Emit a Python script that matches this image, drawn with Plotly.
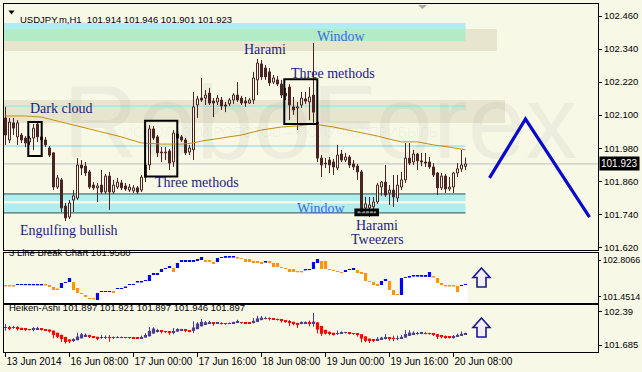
import plotly.graph_objects as go

W, H = 642, 372
BG = "#F8F8E7"
CANDLE = "#4A2323"

# ---------------- data ----------------
symbol = "USDJPY.m,H1"
x_tick_idx = [0, 16, 32, 48, 64, 80, 96, 112]
x_tick_text = ["13 Jun 2014", "16 Jun 08:00", "17 Jun 00:00", "17 Jun 16:00",
               "18 Jun 08:00", "19 Jun 00:00", "19 Jun 16:00", "20 Jun 08:00"]
price_ticks = [102.46, 102.34, 102.22, 102.10, 101.98, 101.86, 101.74, 101.62]

opens = [102.090, 102.010, 102.072, 102.021, 102.028, 102.017, 102.003, 102.017, 102.068, 102.021,
         102.010, 101.981, 101.963, 101.839, 101.865, 101.770, 101.730, 101.792, 101.799, 101.919,
         101.915, 101.894, 101.846, 101.836, 101.846, 101.821, 101.879, 101.821, 101.839, 101.854,
         101.843, 101.828, 101.825, 101.836, 101.828, 101.875, 101.919, 102.050, 102.021, 101.966,
         101.963, 101.970, 101.930, 102.032, 102.021, 102.010, 101.966, 101.974, 102.137, 102.162,
         102.162, 102.180, 102.151, 102.148, 102.155, 102.137, 102.141, 102.155, 102.173, 102.162,
         102.151, 102.144, 102.155, 102.228, 102.286, 102.271, 102.257, 102.220, 102.228, 102.213,
         102.180, 102.202, 102.130, 102.126, 102.137, 102.159, 102.148, 102.173, 102.075, 101.944,
         101.926, 101.937, 101.930, 101.908, 101.959, 101.937, 101.948, 101.923, 101.915, 101.894,
         101.763, 101.763, 101.767, 101.785, 101.839, 101.857, 101.817, 101.828, 101.799, 101.839,
         101.865, 101.944, 101.930, 101.959, 101.934, 101.930, 101.930, 101.912, 101.890, 101.836,
         101.879, 101.832, 101.839, 101.890, 101.905, 101.914]
highs = [102.130, 102.090, 102.090, 102.082, 102.035, 102.024, 102.024, 102.068, 102.075, 102.035,
         102.021, 101.988, 101.966, 101.883, 101.872, 101.781, 101.792, 101.828, 101.944, 101.937,
         101.930, 101.901, 101.857, 101.854, 101.901, 101.886, 101.894, 101.865, 101.872, 101.865,
         101.854, 101.850, 101.846, 101.843, 101.883, 101.937, 102.064, 102.061, 102.028, 101.984,
         101.984, 101.977, 102.046, 102.039, 102.028, 102.017, 101.992, 102.184, 102.170, 102.235,
         102.191, 102.199, 102.162, 102.173, 102.166, 102.148, 102.162, 102.180, 102.220, 102.170,
         102.166, 102.162, 102.257, 102.304, 102.300, 102.282, 102.271, 102.246, 102.242, 102.228,
         102.199, 102.213, 102.166, 102.148, 102.184, 102.184, 102.202, 102.362, 102.101, 101.955,
         101.944, 101.948, 101.941, 101.992, 101.974, 101.963, 101.955, 101.937, 101.923, 101.901,
         101.803, 101.803, 101.803, 101.854, 101.861, 101.919, 101.846, 101.883, 101.883, 101.894,
         101.999, 101.999, 101.974, 101.963, 101.963, 101.963, 101.948, 101.926, 101.894, 101.890,
         101.886, 101.875, 101.894, 101.926, 101.974, 101.946]
lows = [101.992, 101.999, 102.028, 101.992, 101.999, 101.984, 101.992, 101.974, 102.003, 101.992,
        101.984, 101.948, 101.828, 101.832, 101.748, 101.716, 101.723, 101.748, 101.792, 101.883,
        101.879, 101.832, 101.828, 101.785, 101.814, 101.814, 101.756, 101.814, 101.832, 101.828,
        101.825, 101.821, 101.817, 101.814, 101.821, 101.857, 101.901, 102.010, 101.948, 101.930,
        101.937, 101.901, 101.912, 102.010, 102.003, 101.955, 101.955, 101.937, 102.090, 102.148,
        102.137, 102.137, 102.093, 102.137, 102.119, 102.111, 102.133, 102.141, 102.148, 102.137,
        102.130, 102.141, 102.141, 102.173, 102.228, 102.228, 102.206, 102.213, 102.206, 102.162,
        102.155, 102.082, 102.101, 102.046, 102.126, 102.141, 102.082, 102.072, 101.930, 101.875,
        101.908, 101.890, 101.883, 101.901, 101.930, 101.930, 101.908, 101.901, 101.865, 101.741,
        101.745, 101.730, 101.745, 101.778, 101.807, 101.803, 101.774, 101.767, 101.785, 101.828,
        101.854, 101.919, 101.919, 101.901, 101.915, 101.912, 101.905, 101.875, 101.810, 101.828,
        101.817, 101.825, 101.817, 101.875, 101.894, 101.901]
closes = [102.028, 102.075, 102.053, 102.072, 102.010, 101.999, 102.017, 102.053, 102.021, 102.010,
          101.992, 101.955, 101.839, 101.872, 101.763, 101.727, 101.781, 101.807, 101.919, 101.908,
          101.890, 101.839, 101.836, 101.843, 101.821, 101.879, 101.821, 101.846, 101.857, 101.836,
          101.832, 101.839, 101.836, 101.821, 101.875, 101.919, 102.050, 102.017, 101.963, 101.963,
          101.966, 101.926, 102.035, 102.017, 102.010, 101.963, 101.981, 102.130, 102.159, 102.155,
          102.173, 102.144, 102.144, 102.162, 102.133, 102.133, 102.155, 102.173, 102.155, 102.144,
          102.144, 102.155, 102.235, 102.289, 102.239, 102.239, 102.217, 102.235, 102.213, 102.173,
          102.170, 102.137, 102.119, 102.130, 102.162, 102.151, 102.166, 102.111, 101.944, 101.919,
          101.923, 101.919, 101.912, 101.955, 101.937, 101.948, 101.919, 101.912, 101.894, 101.748,
          101.778, 101.774, 101.785, 101.846, 101.857, 101.810, 101.828, 101.803, 101.846, 101.865,
          101.944, 101.926, 101.959, 101.934, 101.930, 101.926, 101.912, 101.883, 101.836, 101.879,
          101.832, 101.839, 101.890, 101.905, 101.919, 101.923]

# moving average (read at selected bars)
ma_idx = [0, 5, 9, 11, 14, 19, 24, 29, 34, 39, 44, 47, 49, 54, 59, 64, 69, 73, 77, 82, 87, 90, 93,
          96, 99, 103, 107, 111, 115]
ma_val = [102.097, 102.097, 102.093, 102.086, 102.075, 102.057, 102.039, 102.021, 101.999, 101.995,
          101.995, 101.999, 102.006, 102.017, 102.028, 102.046, 102.057, 102.061, 102.068, 102.057,
          102.042, 102.035, 102.024, 102.013, 102.003, 102.003, 101.992, 101.984, 101.974]

# forecast zig-zag
fc_idx = [121, 130, 146]
fc_val = [101.872, 102.086, 101.730]

# horizontal levels / zones
level_cyan = [102.133, 101.988]
level_dark = [101.814, 101.745]
current_price = 101.923
win_top_cyan = (102.413, 102.435)
win_top_green = (102.369, 102.413)
win_bot_1 = (101.788, 101.814)
win_bot_2 = (101.745, 101.779)

# pattern boxes (bar index range, price range)
pat_x0 = [5.7, 34.9, 69.7, 87.6]
pat_x1 = [9.05, 42.95, 77.95, 93.0]
pat_y0 = [101.952, 101.877, 102.068, 101.738]
pat_y1 = [102.075, 102.080, 102.230, 101.756]
pat_w = [2, 2, 2, 3]

# pattern labels
lab_text = ["Dark cloud", "Harami", "Three methods", "Three methods", "Engulfing bullish",
            "Harami", "Tweezers"]
lab_x = [13.9, 64.9, 81.9, 47.9, 15.9, 92.9, 92.9]
lab_y = [102.126, 102.340, 102.253, 101.857, 101.683, 101.698, 101.647]
win_lab_x = [83.9, 79.1]
win_lab_y = [102.387, 101.761]

# 3 line break
lb_hi = ([101.883]*3 + [101.920]*7 + [101.902, 101.883, 101.809, 101.754, 101.957, 101.994, 102.142,
        101.994, 101.772, 101.587, 101.514, 101.403, 101.385, 101.587] + [101.661]*4 + [101.772]*2 +
        [101.828] + [101.920]*2 + [102.031]*2 + [102.068, 102.253] + [102.290]*2 +
        [102.474, 102.511, 102.585, 102.511, 102.696] + [102.770]*4 + [102.807, 102.917] + [102.807]*2 +
        [102.733, 102.880, 102.917] + [102.935]*3 + [102.917, 102.880] + [102.843]*2 + [102.733]*2 +
        [102.696, 102.751, 102.733] + [102.696]*2 + [102.548, 102.511] + [102.474]*2 +
        [102.400, 102.400, 102.456, 102.474, 102.733, 102.843] + [102.770]*2 +
        [102.474, 102.437, 102.400, 102.363, 102.437, 102.474, 102.511, 102.437, 102.327, 102.327,
         102.031, 101.994, 101.920, 102.031, 102.105, 102.031, 101.698, 101.532, 102.142, 102.179,
         102.197] + [102.234]*4 + [102.363, 102.216, 102.142, 101.957, 101.883] + [101.865]*2 +
        [101.846, 101.883, 101.920])
lb_lo = ([101.828]*3 + [101.883]*7 + [101.865, 101.809, 101.698, 101.698, 101.772, 101.957, 101.994,
        101.698, 101.587, 101.551, 101.440, 101.366, 101.348, 101.329] + [101.624]*3 + [101.587] +
        [101.735]*2 + [101.772] + [101.883]*2 + [101.975]*2 + [102.031, 102.031] + [102.253]*2 +
        [102.363, 102.474, 102.511, 102.363, 102.511] + [102.733]*4 + [102.770, 102.807] + [102.733]*2 +
        [102.659, 102.733, 102.880] + [102.898]*3 + [102.862, 102.843] + [102.733]*2 + [102.696]*2 +
        [102.659, 102.714, 102.696] + [102.548]*2 + [102.511, 102.474] + [102.363]*2 +
        [102.363, 102.345, 102.419, 102.437, 102.474, 102.696] + [102.474]*2 +
        [102.437, 102.400, 102.363, 102.327, 102.363, 102.437, 102.437, 102.327, 102.290, 102.031,
         101.994, 101.883, 101.846, 101.883, 102.031, 101.698, 101.514, 101.495, 101.514, 102.142,
         102.160] + [102.197]*4 + [102.179, 102.160, 101.957, 101.883, 101.828] + [101.828]*2 +
        [101.624, 101.846, 101.883])
lb_dir = ([-1]*3 + [1]*7 + [-1]*4 + [1]*3 + [-1]*6 + [1]*4 + [-1] + [1]*14 + [-1] + [1]*7 + [-1]*3 +
          [1]*5 + [-1]*7 + [1] + [-1]*9 + [1]*4 + [-1]*6 + [1]*3 + [-1]*6 + [1]*2 + [-1]*3 + [1]*8 +
          [-1]*7 + [1]*2)
lb_value = 101.9580
lb_ticks = [102.8066, 101.4514]

ha_header = [101.897, 101.921, 101.897, 101.946, 101.897]
ha_ticks = [102.39, 101.685]

# ---------------- helpers ----------------
def px(x):
    return x / W

def py(y):
    return 1 - y / H

n = len(opens)
idx = list(range(n))
XR = [-0.375, 148.125]

fig = go.Figure()

# ---------- main candles ----------
body_base = [min(o, c) for o, c in zip(opens, closes)]
body_h = [max(abs(c - o), 0.0016) for o, c in zip(opens, closes)]
body_fill = [BG if c >= o else CANDLE for o, c in zip(opens, closes)]
fig.add_trace(go.Bar(x=idx, y=body_h, base=body_base, width=0.5,
                     marker=dict(color=body_fill, line=dict(color=CANDLE, width=1)),
                     xaxis="x", yaxis="y", hoverinfo="skip"))
wx, wy = [], []
for i, o, h, l, c in zip(idx, opens, highs, lows, closes):
    top, bot = max(o, c), min(o, c)
    wx += [i, i, None, i, i, None]
    wy += [h, top, None, bot, l, None]
fig.add_trace(go.Scatter(x=wx, y=wy, mode="lines", line=dict(color=CANDLE, width=1),
                         xaxis="x", yaxis="y", hoverinfo="skip"))
fig.add_trace(go.Scatter(x=ma_idx, y=ma_val, mode="lines", line=dict(color="#C8900C", width=1),
                         xaxis="x", yaxis="y", hoverinfo="skip"))
fig.add_trace(go.Scatter(x=fc_idx, y=fc_val, mode="lines", line=dict(color="#0A0ACD", width=3.2),
                         xaxis="x", yaxis="y", hoverinfo="skip"))

# ---------- 3 line break ----------
sx, sy = [], []
for i, lo in zip(idx, lb_lo):
    sx += [i - 0.5, i + 0.5]
    sy += [lo, lo]
fig.add_trace(go.Scatter(x=sx, y=sy, mode="lines", line=dict(width=0, color="white"),
                         fill="tozeroy", fillcolor="white", xaxis="x2", yaxis="y2", hoverinfo="skip"))
fig.add_trace(go.Bar(x=idx, y=[h - l for h, l in zip(lb_hi, lb_lo)], base=lb_lo, width=0.8,
                     marker=dict(color=["#0000FF" if d > 0 else "#FF9410" for d in lb_dir], line=dict(width=0)),
                     xaxis="x2", yaxis="y2", hoverinfo="skip"))

# ---------- Heiken-Ashi (derived from candles) ----------
ha_c = [(o + h + l + c) / 4 for o, h, l, c in zip(opens, highs, lows, closes)]
ha_o = [(opens[0] + closes[0]) / 2]
for k in range(1, n):
    ha_o.append((ha_o[k - 1] + ha_c[k - 1]) / 2)
ha_h = [max(h, a, b) for h, a, b in zip(highs, ha_o, ha_c)]
ha_l = [min(l, a, b) for l, a, b in zip(lows, ha_o, ha_c)]
HA_UP, HA_DN = "#4B3D8F", "#FF0000"
fig.add_trace(go.Bar(x=idx, y=[max(abs(c - o), 0.006) for o, c in zip(ha_o, ha_c)],
                     base=[min(o, c) for o, c in zip(ha_o, ha_c)], width=0.8,
                     marker=dict(color=[HA_UP if c >= o else HA_DN for o, c in zip(ha_o, ha_c)], line=dict(width=0)),
                     xaxis="x3", yaxis="y3", hoverinfo="skip"))
for col, up in ((HA_UP, True), (HA_DN, False)):
    hx, hy = [], []
    for i, o, c, h, l in zip(idx, ha_o, ha_c, ha_h, ha_l):
        if (c >= o) == up:
            hx += [i, i, None]
            hy += [l, h, None]
    fig.add_trace(go.Scatter(x=hx, y=hy, mode="lines", line=dict(color=col, width=1),
                             xaxis="x3", yaxis="y3", hoverinfo="skip"))

# ---------- shapes ----------
shapes = []
for (x0, x1, y0, y1) in [(4, 497, 29, 51), (4, 505, 100, 123)]:
    shapes.append(dict(type="rect", xref="paper", yref="paper", x0=px(x0), x1=px(x1), y0=py(y1), y1=py(y0),
                       fillcolor="#E8E5CF", line=dict(width=0), layer="below"))
for (y0, y1), col in [(win_top_cyan, "#AFEEF0"), (win_top_green, "#B2EBC6"),
                      (win_bot_1, "#AFEEEE"), (win_bot_2, "#AFEEEE")]:
    shapes.append(dict(type="rect", xref="x", yref="y", x0=XR[0], x1=n - 1, y0=y0, y1=y1,
                       fillcolor=col, line=dict(width=0), layer="below"))
for lv in level_cyan:
    shapes.append(dict(type="line", xref="x", yref="y", x0=XR[0], x1=n - 1, y0=lv, y1=lv,
                       line=dict(color="#9FE6EE", width=1.3), layer="below"))
for lv in level_dark:
    shapes.append(dict(type="line", xref="x", yref="y", x0=XR[0], x1=n - 1, y0=lv, y1=lv,
                       line=dict(color="#2F4F4F", width=1), layer="below"))
shapes.append(dict(type="line", xref="x domain", yref="y", x0=0, x1=1, y0=current_price, y1=current_price,
                   line=dict(color="#BDBDBD", width=1), layer="below"))
for x0, x1, y0, y1, lw in zip(pat_x0, pat_x1, pat_y0, pat_y1, pat_w):
    shapes.append(dict(type="rect", xref="x", yref="y", x0=x0, x1=x1, y0=y0, y1=y1,
                       line=dict(color="black", width=lw), fillcolor="rgba(0,0,0,0)"))

def path(pts):
    return "M " + " L ".join(f"{px(a):.5f} {py(b):.5f}" for a, b in pts) + " Z"

for dy in (0, 50):
    pts = [(481.5, 268 + dy), (490, 277.5 + dy), (486, 277.5 + dy), (486, 287 + dy),
           (477, 287 + dy), (477, 277.5 + dy), (473, 277.5 + dy)]
    shapes.append(dict(type="path", xref="paper", yref="paper", path=path(pts),
                       line=dict(color="#1A1A8C", width=1.6), fillcolor="#F4EEF6"))
shapes.append(dict(type="path", xref="paper", yref="paper",
                   path=path([(8.5, 10.5), (14.5, 10.5), (11.5, 14.5)]),
                   line=dict(width=0), fillcolor="black"))
shapes.append(dict(type="path", xref="paper", yref="paper",
                   path=path([(418, 5), (427, 5), (422.5, 9)]),
                   line=dict(width=0), fillcolor="#A8A8A8"))

# ---------- annotations ----------
ann = []
ann.append(dict(text="RoboForex", xref="paper", yref="paper", x=px(320), y=py(62), showarrow=False,
                font=dict(family="Liberation Sans", size=104, color="rgba(0,0,0,0.045)")))
ann.append(dict(text="ИСПОЛЬЗУЙ РОБОТОВ – ПОЛУЧАЙ ПРИБЫЛЬ", xref="paper", yref="paper", x=px(440), y=py(121),
                showarrow=False, font=dict(family="Liberation Sans", size=14, color="rgba(0,0,0,0.04)")))
AF = dict(family="Liberation Sans", size=9.5, color="black")
hdr = f"{symbol}  {opens[-1]:.3f} {highs[-1]:.3f} {lows[-1]:.3f} {closes[-1]:.3f}"
ann.append(dict(text=hdr, xref="paper", yref="paper", x=px(18), y=py(12.5), xanchor="left",
                showarrow=False, font=AF))
ann.append(dict(text=f"3 Line Break Chart {lb_value:.4f}", xref="paper", yref="paper", x=px(7), y=py(260),
                xanchor="left", showarrow=False, font=AF))
ann.append(dict(text="Heiken-Ashi " + " ".join(f"{v:.3f}" for v in ha_header), xref="paper", yref="paper",
                x=px(7), y=py(315), xanchor="left", showarrow=False, font=AF))
for t, x, y in zip(lab_text, lab_x, lab_y):
    ann.append(dict(text=t, xref="x", yref="y", x=x, y=y, showarrow=False,
                    font=dict(family="Liberation Serif", size=14, color="#1C1C7A")))
for x, y in zip(win_lab_x, win_lab_y):
    ann.append(dict(text="Window", xref="x", yref="y", x=x, y=y, showarrow=False,
                    font=dict(family="Liberation Serif", size=14, color="#4169E1")))
ann.append(dict(text=f"{current_price:.3f}", xref="paper", yref="y", x=px(599), y=current_price,
                xanchor="left", showarrow=False, bgcolor="black", borderpad=1,
                font=dict(family="Liberation Sans", size=10, color="white")))

ax_common = dict(showgrid=False, zeroline=False, showline=True, mirror=True, linecolor="black",
                 linewidth=1, automargin=False, tickangle=0)
TF = dict(family="Liberation Sans", size=10, color="black")
YF = dict(family="Liberation Sans", size=9.5, color="black")
fig.update_layout(
    width=W, height=H, margin=dict(l=0, r=0, t=0, b=0, autoexpand=False),
    paper_bgcolor=BG, plot_bgcolor=BG, showlegend=False, barmode="overlay",
    xaxis=dict(domain=[px(4), px(598)], range=XR, anchor="y", showticklabels=False, ticks="", **ax_common),
    yaxis=dict(domain=[py(250), py(4)], range=[101.6104, 102.5036], side="right", anchor="x",
               tickvals=price_ticks, ticktext=[f"{v:.3f}" for v in price_ticks], ticks="outside",
               ticklen=3, tickcolor="black", tickfont=YF, **ax_common),
    xaxis2=dict(domain=[px(4), px(598)], range=XR, anchor="y2", showticklabels=False, ticks="", **ax_common),
    yaxis2=dict(domain=[py(303), py(253)], range=[101.219, 103.065], side="right", anchor="x2",
                tickvals=lb_ticks, ticktext=[f"{v:.4f}" for v in lb_ticks], ticks="outside",
                ticklen=2, tickcolor="black", tickfont=dict(family="Liberation Sans", size=9, color="black"),
                **ax_common),
    xaxis3=dict(domain=[px(4), px(598)], range=XR, anchor="y3", tickvals=x_tick_idx, ticktext=x_tick_text,
                ticks="outside", ticklen=4, tickcolor="black", ticklabelposition="outside right",
                tickfont=TF, **ax_common),
    yaxis3=dict(domain=[py(352), py(305)], range=[101.537, 102.532], side="right", anchor="x3",
                tickvals=ha_ticks, ticktext=["102.39", "101.685"], ticks="outside",
                ticklen=3, tickcolor="black", tickfont=YF, **ax_common),
    shapes=shapes, annotations=ann,
)

fig.write_html("out.html")
